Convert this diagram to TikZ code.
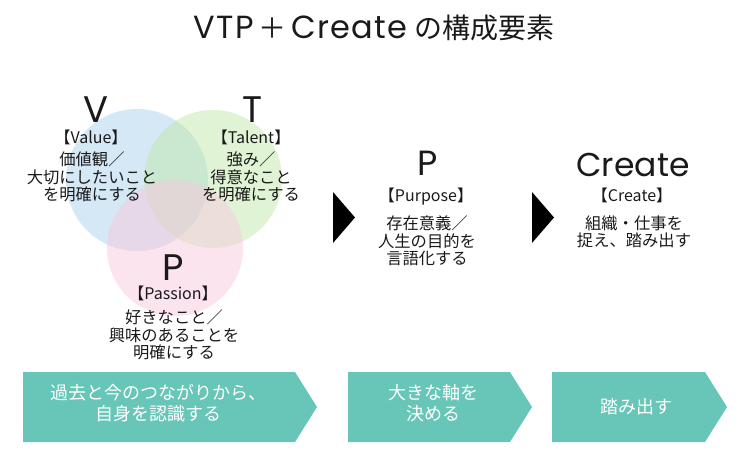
\documentclass[tikz,border=0pt]{standalone}
\usepackage{fontspec}
\setmainfont{Noto Sans CJK JP}
\newfontfamily\latfont{Poppins}
\newfontfamily\titlefont[LetterSpace=4]{Poppins}
\usepackage{xcolor}
\definecolor{vblue}{HTML}{A9D1EB}
\definecolor{tgreen}{HTML}{C1E7A9}
\definecolor{ppink}{HTML}{F9C9DD}
\definecolor{band}{HTML}{68C6B8}
\definecolor{ink}{HTML}{1A1A1A}
\tikzset{
  letter/.style={text=ink,inner sep=0pt,anchor=base,text height=24pt,text depth=0pt,font=\latfont\fontsize{37}{37}\selectfont},
  bracket/.style={text=ink,inner sep=0pt,text height=11pt,text depth=3pt,font=\fontsize{16}{16}\selectfont},
  desc/.style={text=ink,inner sep=0pt,align=center,font=\fontsize{16.3}{17.5}\selectfont},
  bandtext/.style={text=white,inner sep=0pt,align=center,font=\fontsize{18}{21}\selectfont},
}

\begin{document}
\begin{tikzpicture}[x=1pt,y=-1pt]
  \useasboundingbox (0,0) rectangle (750,453);
  % title
  \node[text=ink,inner sep=0pt,font=\fontsize{28}{28}\selectfont] (title) at (374,28)
    {{\titlefont\fontsize{32}{32}\selectfont VTP}\,＋\,{\titlefont\fontsize{32}{32}\selectfont Create}\hspace{0.25em}の構成要素};

  % the three circles
  \foreach \cx/\cy/\r/\col in {137/180/71/vblue,213/179/69/tgreen,175/248/68/ppink} {
    \fill[\col,fill opacity=0.5] (\cx,\cy) circle (\r);
  }

  % V
  \node[letter] (v) at (96,122) {V};
  \node[bracket] (value) at (91,139) {【Value】};
  \node[desc] (vdesc) at (92,177) {価値観／\\大切にしたいこと\\を明確にする};
  % T
  \node[letter] (t) at (253,122) {T};
  \node[bracket] (talent) at (251,139) {【Talent】};
  \node[desc] (tdesc) at (251,177) {強み／\\得意なこと\\を明確にする};
  % P
  \node[letter] (p) at (173,280) {P};
  \node[bracket] (passion) at (173,295) {【Passion】};
  \node[desc] (pdesc) at (174,335) {好きなこと／\\興味のあることを\\明確にする};

  % black arrows
  \foreach \x in {333,532} {
    \fill[black] (\x,192) -- (\x+22,217.5) -- (\x,243) -- cycle;
  }

  % Purpose
  \node[letter,font=\latfont\fontsize{35}{35}\selectfont] (pp) at (428,175.5) {P};
  \node[bracket] (purpose) at (426,197) {【Purpose】};
  \node[desc] (ppdesc) at (427,241) {存在意義／\\人生の目的を\\言語化する};
  % Create
  \node[letter,font=\latfont\fontsize{33}{33}\selectfont] (create) at (633,176) {Create};
  \node[bracket] (createb) at (632,197) {【Create】};
  \node[desc] (cdesc) at (634,232) {組織・仕事を\\捉え、踏み出す};

  % bands
  \foreach \a/\b in {23/295,348/510,552/705} {
    \fill[band] (\a,372) -- (\b,372) -- (\b+22,407) -- (\b,442) -- (\a,442) -- cycle;
  }
  \node[bandtext] (past) at (158,403) {過去と今のつながりから、\\自身を認識する};
  \node[bandtext] (axis) at (433,403) {大きな軸を\\決める};
  \node[bandtext] (step) at (636,407) {踏み出す};
\end{tikzpicture}
\end{document}
